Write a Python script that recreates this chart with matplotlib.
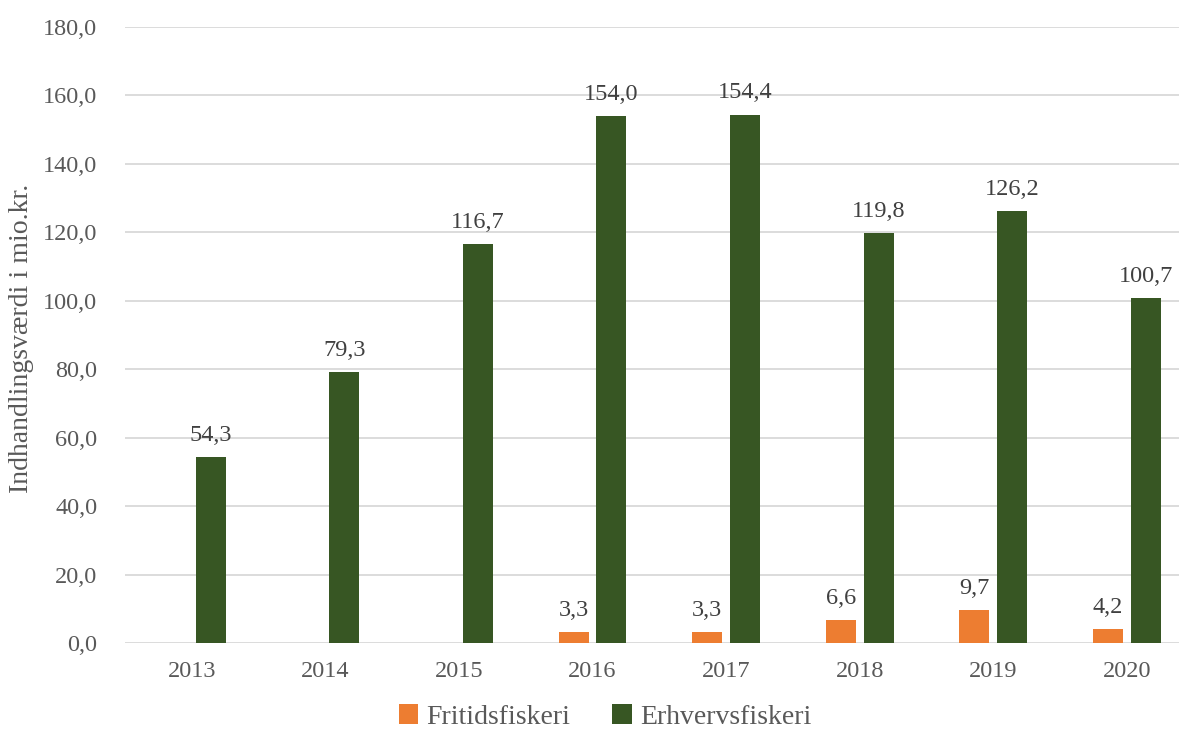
import matplotlib.pyplot as plt
import numpy as np

plt.rcParams['font.family'] = ['Liberation Serif', 'DejaVu Serif']

# Data
years = ['2013', '2014', '2015', '2016', '2017', '2018', '2019', '2020']
fritid = [None, None, None, 3.3, 3.3, 6.6, 9.7, 4.2]
erhverv = [54.3, 79.3, 116.7, 154.0, 154.4, 119.8, 126.2, 100.7]
y_ticks = [0, 20, 40, 60, 80, 100, 120, 140, 160, 180]

orange = '#ED7D31'
green = '#375623'
grid_col = '#D9D9D9'
tick_col = '#595959'
label_col = '#404040'

fig = plt.figure(figsize=(11.79, 7.35), dpi=100)
ax = fig.add_axes([125 / 1179, 92 / 735, 1068.6 / 1179, 616 / 735])

x = np.arange(len(years))
w = 0.2246
off = 0.142

fr_vals = [v if v is not None else 0 for v in fritid]
ax.bar(x - off, fr_vals, width=w, color=orange, label='Fritidsfiskeri', zorder=3)
ax.bar(x + off, erhverv, width=w, color=green, label='Erhvervsfiskeri', zorder=3)

# Værdietiketter
for xi, v in zip(x, fritid):
    if v is not None:
        ax.annotate(f'{v:.1f}'.replace('.', ','), (xi - off, v), xytext=(0, 8),
                    textcoords='offset points', ha='center', va='bottom',
                    fontsize=17.5, color=label_col)
for xi, v in zip(x, erhverv):
    ax.annotate(f'{v:.1f}'.replace('.', ','), (xi + off, v), xytext=(0, 8),
                textcoords='offset points', ha='center', va='bottom',
                fontsize=17.5, color=label_col)

ax.set_xlim(-0.5, len(years) - 0.5)
ax.set_ylim(0, 180)
ax.set_yticks(y_ticks)
ax.set_yticklabels([f'{t:.1f}'.replace('.', ',') for t in y_ticks])
ax.set_xticks(x)
ax.set_xticklabels(years)
ax.tick_params(axis='both', length=0, labelsize=17.5, colors=tick_col)
ax.tick_params(axis='y', pad=20)
ax.tick_params(axis='x', pad=13)

ax.yaxis.grid(True, color=grid_col, linewidth=1.3, zorder=0)
for s in ax.spines.values():
    s.set_visible(False)

fig.text(22 / 1179, 397 / 735, 'Indhandlingsværdi i mio.kr.', rotation=90,
         ha='center', va='center', fontsize=20, color=tick_col)

fig.legend(loc='lower center', bbox_to_anchor=(605 / 1179, -10 / 735),
           ncol=2, frameon=False, fontsize=20, handlelength=0.7, handleheight=0.7,
           handletextpad=0.3, columnspacing=1.5, labelcolor=tick_col, borderpad=0.05)

fig.savefig('out.png', dpi=100)
